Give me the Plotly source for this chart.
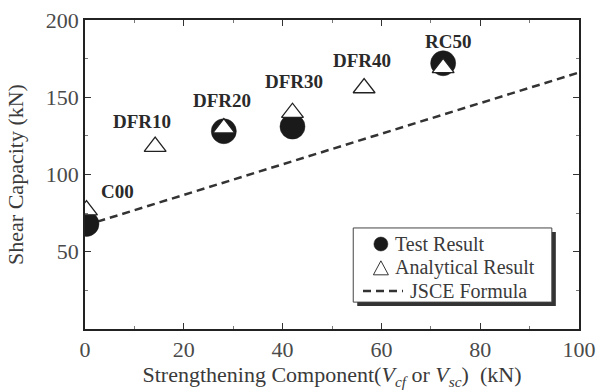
import plotly.graph_objects as go

# Data
specimens = ["C00", "DFR10", "DFR20", "DFR30", "DFR40", "RC50"]
test_x = [0.3, 28.1, 42.0, 72.5]
test_y = [68, 128, 131, 172]
ana_x = [0.3, 14.2, 28.1, 42.0, 56.5, 72.5]
ana_y = [77, 118, 130, 140, 156, 169]
jsce_x = [0, 100]
jsce_y = [67, 166]
label_x = [6.5, 11.5, 27.7, 42.4, 56.0, 73.5]
label_y = [89, 134, 148, 160, 174, 186]
legend_labels = ["Test Result", "Analytical Result", "JSCE Formula"]

FONT = "Liberation Serif"
TXT = "#3a3a3a"
fig = go.Figure()
fig.add_trace(go.Scatter(x=jsce_x, y=jsce_y, mode="lines", name="JSCE Formula",
                         line=dict(color="#333", width=2.5, dash="8px,5px"), showlegend=False))
fig.add_trace(go.Scatter(x=test_x, y=test_y, mode="markers", name="Test Result",
                         marker=dict(symbol="circle", size=25, color="#1a1a1a",
                                     line=dict(color="#1a1a1a", width=0.5)), showlegend=False))
fig.add_trace(go.Scatter(x=ana_x, y=ana_y, mode="markers", name="Analytical Result",
                         marker=dict(symbol="triangle-up", size=19, color="white",
                                     line=dict(color="#222", width=1.3)), showlegend=False))

for t, lx, ly in zip(specimens, label_x, label_y):
    fig.add_annotation(x=lx, y=ly, text=f"<b>{t}</b>", showarrow=False,
                       font=dict(family=FONT, size=19, color="#2a2a2a"))

# Legend box (manual, with shadow)
PW, PH = 494.0, 309.0  # plot area size in px
bx0, bx1, by0, by1 = 0.543, 0.945, 0.087, 0.327
sdx, sdy = 4 / PW, 4 / PH
fig.add_shape(type="rect", xref="paper", yref="paper", x0=bx0 + sdx, x1=bx1 + sdx,
              y0=by0 - sdy, y1=by1 - sdy, fillcolor="#333", line=dict(width=0))
fig.add_shape(type="rect", xref="paper", yref="paper", x0=bx0, x1=bx1, y0=by0, y1=by1,
              fillcolor="white", line=dict(color="#444", width=1))
rows = [0.275, 0.198, 0.123]
sx = 0.599
cr = 7.0
fig.add_shape(type="circle", xref="paper", yref="paper",
              x0=sx - cr / PW, x1=sx + cr / PW, y0=rows[0] - cr / PH, y1=rows[0] + cr / PH,
              fillcolor="#1a1a1a", line=dict(color="#1a1a1a", width=0.5))
tw, th = 7.5, 7.0
fig.add_shape(type="path", xref="paper", yref="paper",
              path=f"M {sx - tw / PW} {rows[1] - th / PH} L {sx + tw / PW} {rows[1] - th / PH} "
                   f"L {sx} {rows[1] + th / PH} Z",
              fillcolor="white", line=dict(color="#333", width=1))
fig.add_shape(type="line", xref="paper", yref="paper", x0=(363 - 85) / PW, x1=(403 - 85) / PW,
              y0=rows[2], y1=rows[2], line=dict(color="#333", width=2.5, dash="8px,5px"))
text_x = [0.623, 0.623, 0.654]
for txt, yy, xx in zip(legend_labels, rows, text_x):
    fig.add_annotation(xref="paper", yref="paper", x=xx, y=yy, text=txt,
                       showarrow=False, xanchor="left", yanchor="middle",
                       font=dict(family=FONT, size=20, color=TXT))

axis_common = dict(showgrid=False, zeroline=False, showline=True, linecolor="#222", linewidth=1.5,
                   mirror="allticks", ticks="inside", ticklen=6, tickcolor="#333", automargin=False,
                   tickfont=dict(family=FONT, size=22, color="#4a4a4a"))
fig.update_xaxes(range=[0, 100], dtick=20,
                 minor=dict(dtick=10, ticks="inside", ticklen=3, tickcolor="#777"),
                 title=dict(text="Strengthening Component(<i>V</i><sub><i>cf</i></sub> or <i>V</i><sub><i>sc</i></sub>)  (kN)",
                            font=dict(family=FONT, size=22, color=TXT), standoff=4),
                 **axis_common)
fig.update_yaxes(range=[0, 200], tickvals=[50, 100, 150, 200],
                 minor=dict(dtick=25, ticks="inside", ticklen=3, tickcolor="#777"),
                 title=dict(text="Shear Capacity (kN)", font=dict(family=FONT, size=22, color=TXT), standoff=16),
                 **axis_common)
fig.update_layout(width=598, height=392, margin=dict(l=85, r=19, t=20, b=63),
                  plot_bgcolor="white", paper_bgcolor="white", showlegend=False)
fig.write_html("out.html", config={"displayModeBar": False},
               post_script="document.body.style.margin='0';document.body.style.overflow='hidden';")
